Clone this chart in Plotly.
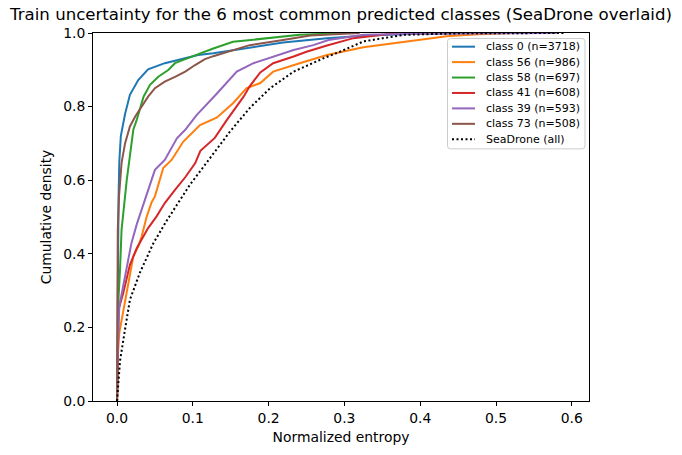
import plotly.graph_objects as go

# Values (normalized entropy -> cumulative density)
c0_x = [0, 0.0005, 0.001, 0.002, 0.003, 0.005, 0.0106, 0.017, 0.028, 0.041, 0.063, 0.085, 0.107, 0.127, 0.167, 0.219, 0.277, 0.33, 0.4, 0.48]
c0_y = [0, 0.2, 0.4, 0.55, 0.65, 0.72, 0.78, 0.832, 0.872, 0.901, 0.918, 0.929, 0.94, 0.945, 0.958, 0.974, 0.986, 0.993, 0.998, 1.0]

c56_x = [0, 0.001, 0.003, 0.0083, 0.015, 0.0215, 0.028, 0.0325, 0.039, 0.0457, 0.05, 0.061, 0.072, 0.0875, 0.1095, 0.1315, 0.153, 0.171, 0.189, 0.206, 0.241, 0.277, 0.325, 0.382, 0.435, 0.47, 0.52]
c56_y = [0, 0.12, 0.185, 0.248, 0.321, 0.393, 0.42, 0.447, 0.5, 0.54, 0.556, 0.633, 0.655, 0.705, 0.75, 0.77, 0.809, 0.85, 0.864, 0.895, 0.918, 0.94, 0.961, 0.977, 0.991, 0.996, 1.0]

c58_x = [0, 0.001, 0.002, 0.004, 0.006, 0.0128, 0.0215, 0.026, 0.035, 0.0435, 0.0545, 0.068, 0.0765, 0.09, 0.107, 0.127, 0.153, 0.197, 0.241, 0.3]
c58_y = [0, 0.2, 0.28, 0.36, 0.465, 0.6, 0.737, 0.764, 0.827, 0.859, 0.881, 0.9, 0.918, 0.929, 0.943, 0.958, 0.976, 0.985, 0.995, 1.0]

c41_x = [0, 0.001, 0.002, 0.0083, 0.017, 0.026, 0.0325, 0.041, 0.052, 0.063, 0.0765, 0.09, 0.103, 0.11, 0.129, 0.145, 0.167, 0.175, 0.189, 0.206, 0.233, 0.25, 0.277, 0.312, 0.37]
c41_y = [0, 0.15, 0.248, 0.294, 0.37, 0.415, 0.438, 0.47, 0.501, 0.538, 0.574, 0.608, 0.646, 0.68, 0.715, 0.764, 0.827, 0.855, 0.893, 0.918, 0.936, 0.949, 0.966, 0.986, 1.0]

c39_x = [0, 0.001, 0.003, 0.0083, 0.015, 0.019, 0.026, 0.0325, 0.041, 0.05, 0.063, 0.079, 0.09, 0.105, 0.1315, 0.158, 0.18, 0.206, 0.233, 0.259, 0.279, 0.325, 0.4, 0.58]
c39_y = [0, 0.15, 0.257, 0.311, 0.38, 0.429, 0.48, 0.52, 0.574, 0.628, 0.655, 0.714, 0.737, 0.777, 0.835, 0.895, 0.918, 0.936, 0.954, 0.967, 0.981, 0.995, 0.998, 1.0]

c73_x = [0, 0.0005, 0.001, 0.0026, 0.006, 0.0106, 0.015, 0.017, 0.024, 0.0325, 0.041, 0.05, 0.063, 0.0765, 0.09, 0.103, 0.116, 0.127, 0.162, 0.175, 0.219, 0.255, 0.32]
c73_y = [0, 0.25, 0.465, 0.556, 0.647, 0.70, 0.728, 0.746, 0.773, 0.8, 0.827, 0.85, 0.868, 0.881, 0.895, 0.913, 0.929, 0.937, 0.958, 0.967, 0.981, 0.993, 1.0]

sea_x = [0, 0.004, 0.0106, 0.017, 0.030, 0.037, 0.048, 0.0655, 0.083, 0.0963, 0.1227, 0.149, 0.175, 0.202, 0.233, 0.272, 0.294, 0.325, 0.378, 0.45, 0.59]
sea_y = [0, 0.11, 0.195, 0.275, 0.348, 0.379, 0.429, 0.49, 0.547, 0.588, 0.66, 0.732, 0.796, 0.85, 0.895, 0.931, 0.949, 0.977, 0.995, 0.999, 1.0]

series_names = ["class 0 (n=3718)", "class 56 (n=986)", "class 58 (n=697)",
                "class 41 (n=608)", "class 39 (n=593)", "class 73 (n=508)"]
series_x = [c0_x, c56_x, c58_x, c41_x, c39_x, c73_x]
series_y = [c0_y, c56_y, c58_y, c41_y, c39_y, c73_y]
colors = ["#1f77b4", "#ff7f0e", "#2ca02c", "#d62728", "#9467bd", "#8c564b"]
sea_name = "SeaDrone (all)"
dot_pattern = "2px,2.5px"

fig = go.Figure()
for name, xs, ys, col in zip(series_names, series_x, series_y, colors):
    fig.add_trace(go.Scatter(x=xs, y=ys, mode="lines", name=name,
                             line=dict(color=col, width=2)))
fig.add_trace(go.Scatter(x=sea_x, y=sea_y, mode="lines", name=sea_name,
                         line=dict(color="black", width=2, dash=dot_pattern)))

font = "DejaVu Sans, sans-serif"

# Plot area in pixels (figure 682x455)
L, R, T, B = 93, 589, 33, 401.5
W, H = R - L, B - T
def px(xp):
    return (xp - L) / W
def py(yp):
    return (B - yp) / H

# Matplotlib-style compact legend built from shapes + annotations
shapes = []
annotations = []
bx0, bx1, by0, by1 = 447.5, 585, 38.5, 149
r = 3
path = (f"M {px(bx0 + r)} {py(by0)} L {px(bx1 - r)} {py(by0)} "
        f"Q {px(bx1)} {py(by0)} {px(bx1)} {py(by0 + r)} L {px(bx1)} {py(by1 - r)} "
        f"Q {px(bx1)} {py(by1)} {px(bx1 - r)} {py(by1)} L {px(bx0 + r)} {py(by1)} "
        f"Q {px(bx0)} {py(by1)} {px(bx0)} {py(by1 - r)} L {px(bx0)} {py(by0 + r)} "
        f"Q {px(bx0)} {py(by0)} {px(bx0 + r)} {py(by0)} Z")
shapes.append(dict(type="path", xref="paper", yref="paper", path=path,
                   fillcolor="rgba(255,255,255,0.8)", line=dict(color="#cccccc", width=1),
                   layer="above"))
legend_names = series_names + [sea_name]
legend_colors = colors + ["black"]
row0, dy = 46.7, 15.45
for i, (nm, col) in enumerate(zip(legend_names, legend_colors)):
    yc = row0 + i * dy
    shapes.append(dict(type="line", xref="paper", yref="paper",
                       x0=px(452), x1=px(475), y0=py(yc), y1=py(yc),
                       line=dict(color=col, width=2, dash=dot_pattern if i == 6 else "solid"),
                       layer="above"))
    annotations.append(dict(xref="paper", yref="paper", x=px(484), y=py(yc),
                            xanchor="left", yanchor="middle", showarrow=False,
                            text=nm, font=dict(size=11, family=font, color="black")))

axis_common = dict(showgrid=False, zeroline=False, showline=True, linecolor="black",
                   linewidth=1, mirror=True, ticks="outside", ticklen=4,
                   tickcolor="black", tickfont=dict(size=13.9, color="black", family=font))
fig.update_layout(
    width=682, height=455,
    margin=dict(l=L, r=682 - R, t=T, b=455 - B),
    paper_bgcolor="white", plot_bgcolor="white",
    font=dict(family=font, color="black"),
    showlegend=False,
    title=dict(text="Train uncertainty for the 6 most common predicted classes (SeaDrone overlaid)",
               x=0.5, xanchor="center", y=0.969, yanchor="middle",
               font=dict(size=16.6, color="black", family=font)),
    xaxis=dict(range=[-0.0317, 0.6227], tickvals=[0, 0.1, 0.2, 0.3, 0.4, 0.5, 0.6],
               ticktext=["0.0", "0.1", "0.2", "0.3", "0.4", "0.5", "0.6"],
               title=dict(text="Normalized entropy", font=dict(size=13.9, family=font), standoff=7),
               **axis_common),
    yaxis=dict(range=[0, 1], tickvals=[0, 0.2, 0.4, 0.6, 0.8, 1.0],
               ticktext=["0.0", "0.2", "0.4", "0.6", "0.8", "1.0"],
               title=dict(text="Cumulative density", font=dict(size=13.9, family=font), standoff=8),
               **axis_common),
    shapes=shapes,
    annotations=annotations,
)

fig.write_html("out.html")
